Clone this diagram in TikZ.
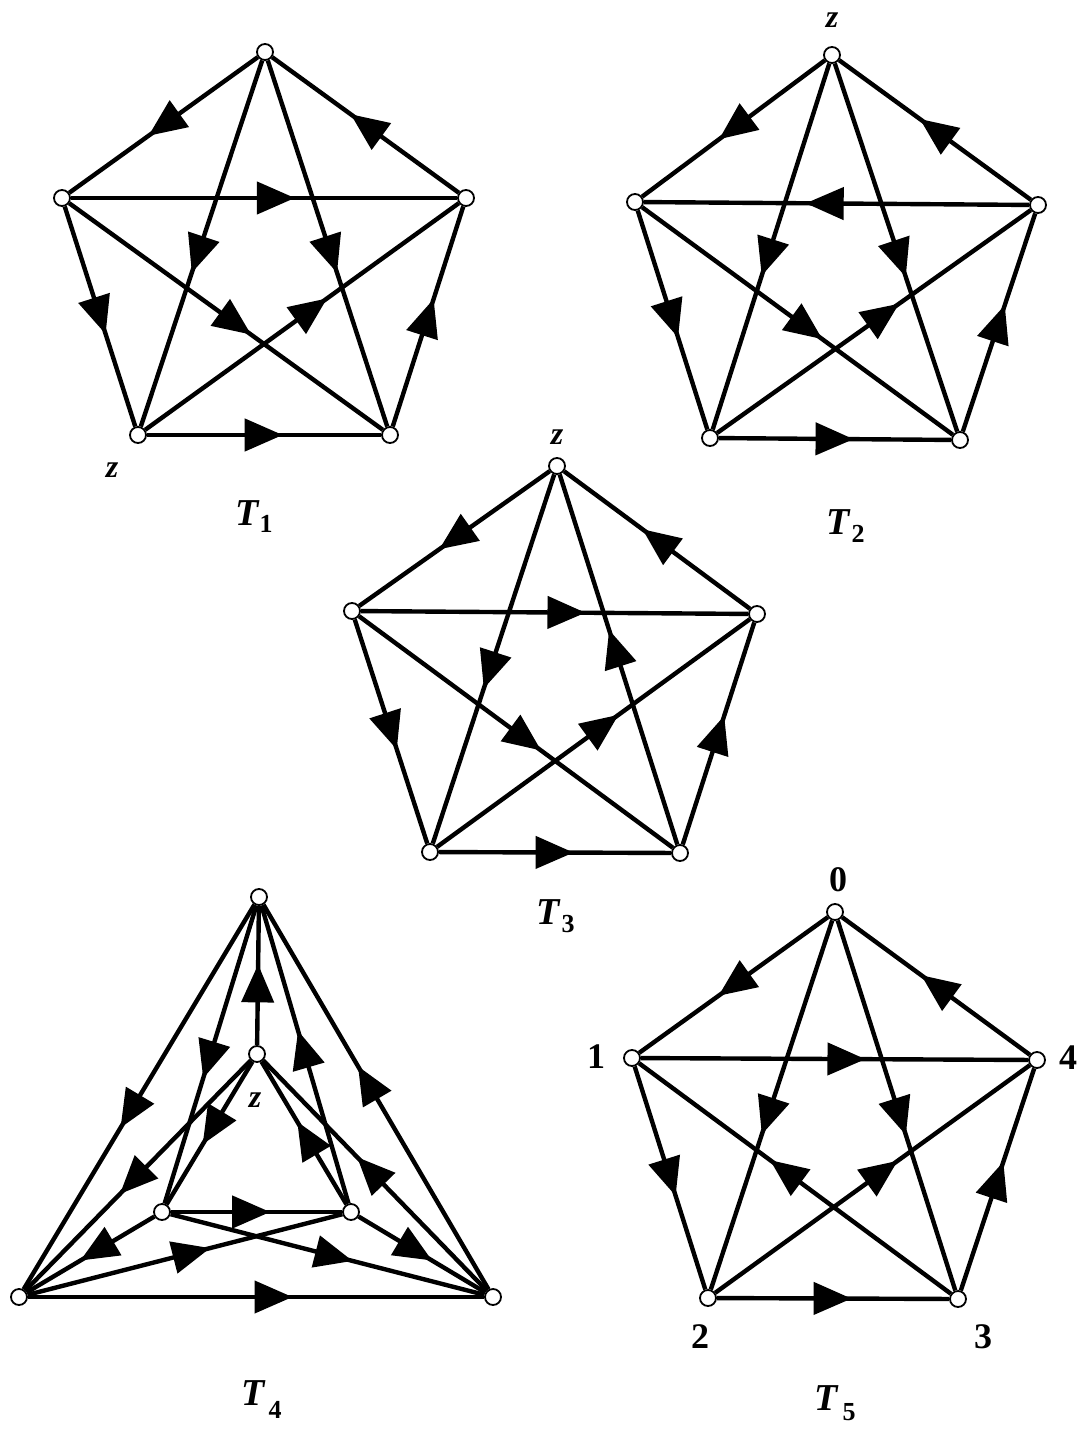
\documentclass[tikz,border=0pt]{standalone}
\usepackage{fontspec}
\setmainfont{Liberation Serif}
\usetikzlibrary{arrows.meta,decorations.markings}
\tikzset{
  vtx/.style={circle, draw, fill=white, line width=0.9pt, minimum size=8pt, inner sep=0pt},
  dedge/.style={line width=2.2pt, postaction={decorate},
    decoration={markings, mark=at position 0.58 with {\arrow{Triangle[length=19pt,width=16pt]}}}},
  zlab/.style={font=\fontsize{16}{18}\selectfont\bfseries\itshape, inner sep=0pt},
  tlab/.style={font=\fontsize{19}{22}\selectfont\bfseries\itshape, inner sep=0pt},
  slab/.style={font=\fontsize{13}{15}\selectfont\bfseries, inner sep=0pt},
  nlab/.style={font=\fontsize{18}{20}\selectfont\bfseries, inner sep=0pt}
}
\begin{document}
\begin{tikzpicture}[x=0.5pt,y=-0.5pt]
\fill[white] (0,0) rectangle (1082,1429);
\useasboundingbox (0,0) rectangle (1082,1429);

% ---------- T1 ----------
\node[vtx] (a0) at (265,52) {};
\node[vtx] (a1) at (62,198) {};
\node[vtx] (a4) at (466,198) {};
\node[vtx] (a2) at (138,435) {};
\node[vtx] (a3) at (390,435) {};
\draw[dedge] (a0) -- (a1);
\draw[dedge] (a4) -- (a0);
\draw[dedge] (a1) -- (a4);
\draw[dedge] (a0) -- (a2);
\draw[dedge] (a0) -- (a3);
\draw[dedge] (a1) -- (a2);
\draw[dedge] (a1) -- (a3);
\draw[dedge] (a2) -- (a4);
\draw[dedge] (a3) -- (a4);
\draw[dedge] (a2) -- (a3);
\node[zlab] (za) at (112,470) {z};
\node[tlab] (ta) at (247,513) {T};
\node[slab] (sa) at (266,524) {1};

% ---------- T2 ----------
\node[vtx] (b0) at (832,55) {};
\node[vtx] (b1) at (635,202) {};
\node[vtx] (b4) at (1038,205) {};
\node[vtx] (b2) at (710,438) {};
\node[vtx] (b3) at (960,440) {};
\draw[dedge] (b0) -- (b1);
\draw[dedge] (b4) -- (b0);
\draw[dedge] (b4) -- (b1);
\draw[dedge] (b0) -- (b2);
\draw[dedge] (b0) -- (b3);
\draw[dedge] (b1) -- (b2);
\draw[dedge] (b1) -- (b3);
\draw[dedge] (b2) -- (b4);
\draw[dedge] (b3) -- (b4);
\draw[dedge] (b2) -- (b3);
\node[zlab] (zb) at (832,20) {z};
\node[tlab] (tb) at (838,522) {T};
\node[slab] (sb) at (858,534) {2};

% ---------- T3 ----------
\node[vtx] (c0) at (557,466) {};
\node[vtx] (c1) at (352,611) {};
\node[vtx] (c4) at (757,614) {};
\node[vtx] (c2) at (430,852) {};
\node[vtx] (c3) at (680,853) {};
\draw[dedge] (c0) -- (c1);
\draw[dedge] (c4) -- (c0);
\draw[dedge] (c1) -- (c4);
\draw[dedge] (c0) -- (c2);
\draw[dedge] (c3) -- (c0);
\draw[dedge] (c1) -- (c2);
\draw[dedge] (c1) -- (c3);
\draw[dedge] (c2) -- (c4);
\draw[dedge] (c3) -- (c4);
\draw[dedge] (c2) -- (c3);
\node[zlab] (zc) at (557,437) {z};
\node[tlab] (tc) at (548,912) {T};
\node[slab] (sc) at (568,924) {3};

% ---------- T4 ----------
\node[vtx] (dA) at (259,897) {};
\node[vtx] (dB) at (19,1297) {};
\node[vtx] (dC) at (493,1297) {};
\node[vtx] (dz) at (257,1054) {};
\node[vtx] (dD) at (162,1212) {};
\node[vtx] (dE) at (351,1212) {};
\draw[dedge] (dA) -- (dB);
\draw[dedge] (dC) -- (dA);
\draw[dedge] (dB) -- (dC);
\draw[dedge] (dz) -- (dA);
\draw[dedge] (dA) -- (dD);
\draw[dedge] (dE) -- (dA);
\draw[dedge] (dz) -- (dB);
\draw[dedge] (dz) -- (dD);
\draw[dedge] (dE) -- (dz);
\draw[dedge] (dC) -- (dz);
\draw[dedge] (dD) -- (dB);
\draw[dedge] (dD) -- (dC);
\draw[dedge] (dD) -- (dE);
\draw[dedge] (dB) -- (dE);
\draw[dedge] (dE) -- (dC);
\node[zlab] (zd) at (255,1100) {z};
\node[tlab] (td) at (253,1393) {T};
\node[slab] (sd) at (275,1410) {4};

% ---------- T5 ----------
\node[vtx] (e0) at (835,912) {};
\node[vtx] (e1) at (632,1058) {};
\node[vtx] (e4) at (1037,1060) {};
\node[vtx] (e2) at (708,1298) {};
\node[vtx] (e3) at (958,1299) {};
\draw[dedge] (e0) -- (e1);
\draw[dedge] (e4) -- (e0);
\draw[dedge] (e1) -- (e4);
\draw[dedge] (e0) -- (e2);
\draw[dedge] (e0) -- (e3);
\draw[dedge] (e1) -- (e2);
\draw[dedge] (e3) -- (e1);
\draw[dedge] (e2) -- (e4);
\draw[dedge] (e3) -- (e4);
\draw[dedge] (e2) -- (e3);
\node[nlab] (l0) at (838,880) {0};
\node[nlab] (l1) at (596,1057) {1};
\node[nlab] (l4) at (1068,1058) {4};
\node[nlab] (l2) at (700,1337) {2};
\node[nlab] (l3) at (983,1337) {3};
\node[tlab] (te) at (826,1398) {T};
\node[slab] (se) at (849,1412) {5};
\end{tikzpicture}
\end{document}
